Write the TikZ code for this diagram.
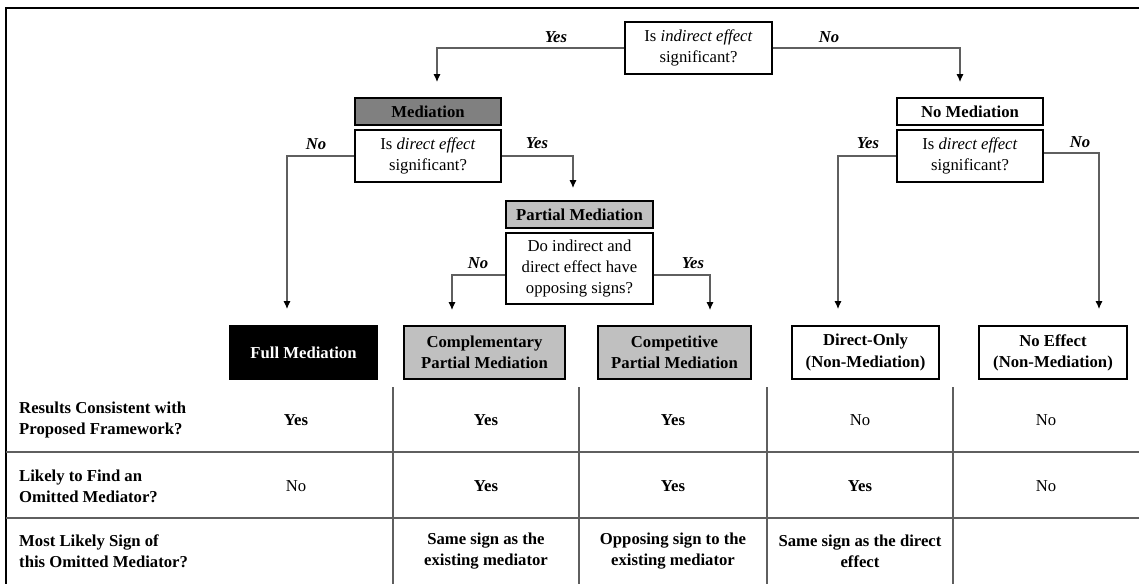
\documentclass[tikz,border=0pt]{standalone}
\usepackage{fontspec}
\setmainfont{Liberation Serif}
\usepackage{tikz}
\usetikzlibrary{arrows.meta}
\definecolor{darkgrayfill}{RGB}{128,128,128}
\definecolor{palegray}{RGB}{192,192,192}
\definecolor{linegray}{RGB}{95,95,95}
\newcommand{\dsize}{\fontsize{9.5}{12}\selectfont}

\begin{document}
\begin{tikzpicture}[x=0.02cm, y=-0.02cm,
    box/.style={draw=black, line width=1.1pt, align=center, inner sep=0pt, font=\dsize},
    titlebox/.style={box, font=\dsize\bfseries, minimum width=2.93cm, minimum height=0.54cm},
    qbox/.style={box, fill=white, minimum width=2.93cm, minimum height=1.04cm},
    outbox/.style={box, font=\dsize\bfseries, minimum height=1.06cm},
    answer/.style={font=\dsize\bfseries\itshape},
    conn/.style={draw=linegray, line width=0.6pt, -{Latex[length=4.5pt,width=4pt,color=black]}},
    rule/.style={draw=linegray, line width=0.8pt},
    rowlab/.style={font=\dsize\bfseries, align=left, anchor=west},
    cell/.style={font=\dsize, align=center},
    cellb/.style={cell, font=\dsize\bfseries}]
    \useasboundingbox (0,0) rectangle (1139,584);

    % Frame
    \draw[line width=1.1pt] (6,584) -- (6,8) -- (1139,8);

    % First question
    \node[qbox] (indq) at (698.5,48) {Is \emph{indirect effect}\\significant?};
    \coordinate (medIn) at (437,82);
    \coordinate (nomedIn) at (960,82);
    \draw[conn] (indq.west) -| (medIn);
    \draw[conn] (indq.east) -| (nomedIn);
    \node[answer] (indYes) at (556,37) {Yes};
    \node[answer] (indNo) at (829,37) {No};

    % Mediation branch
    \node[titlebox, fill=darkgrayfill] (medT) at (428,111.5) {Mediation};
    \node[qbox] (medq) at (428,156) {Is \emph{direct effect}\\significant?};
    \coordinate (fullIn) at (287,309);
    \coordinate (partIn) at (573,188);
    \draw[conn] (medq.west) -| (fullIn);
    \draw[conn] (medq.east) -| (partIn);
    \node[answer] (medNo) at (316,144) {No};
    \node[answer] (medYes) at (537,143) {Yes};

    % Partial mediation branch
    \node[titlebox, fill=palegray] (partT) at (579.5,214.5) {Partial Mediation};
    \node[qbox, minimum height=1.42cm] (partq) at (579.5,268.5) {Do indirect and\\direct effect have\\opposing signs?};
    \coordinate (complIn) at (452,310);
    \coordinate (competIn) at (710,310);
    \draw[conn] ([yshift=-0.13cm]partq.west) -| (complIn);
    \draw[conn] ([yshift=-0.13cm]partq.east) -| (competIn);
    \node[answer] (partNo) at (478,263) {No};
    \node[answer] (partYes) at (693,263) {Yes};

    % No mediation branch
    \node[titlebox, fill=white] (nomedT) at (970,111.5) {No Mediation};
    \node[qbox] (nomedq) at (970,156) {Is \emph{direct effect}\\significant?};
    \coordinate (directIn) at (838,309);
    \coordinate (noeffIn) at (1099,309);
    \draw[conn] (nomedq.west) -| (directIn);
    \draw[conn] ([yshift=0.06cm]nomedq.east) -| (noeffIn);
    \node[answer] (nomedYes) at (868,143) {Yes};
    \node[answer] (nomedNo) at (1080,142) {No};

    % Outcomes
    \node[outbox, fill=black, text=white, minimum width=2.94cm] (full) at (303.5,352.5) {Full Mediation};
    \node[outbox, fill=palegray, minimum width=3.22cm] (compl) at (484.5,352.5) {Complementary\\Partial Mediation};
    \node[outbox, fill=palegray, minimum width=3.06cm] (compet) at (674.5,352.5) {Competitive\\Partial Mediation};
    \node[outbox, fill=white, minimum width=2.94cm] (direct) at (865.5,352.5) {Direct-Only\\(Non-Mediation)};
    \node[outbox, fill=white, minimum width=2.96cm] (noeff) at (1053,352.5) {No Effect\\(Non-Mediation)};

    % Table rules
    \foreach \xx in {393,579,767,953}
        \draw[rule] (\xx,387) -- (\xx,584);
    \draw[rule] (6,452) -- (1139,452);
    \draw[rule] (6,518) -- (1139,518);

    % Row 1
    \node[rowlab] (rowA) at (13,420) {Results Consistent with\\Proposed Framework?};
    \node[cellb] (a1) at (296,420) {Yes};
    \node[cellb] (a2) at (486,420) {Yes};
    \node[cellb] (a3) at (673,420) {Yes};
    \node[cell] (a4) at (860,420) {No};
    \node[cell] (a5) at (1046,420) {No};

    % Row 2
    \node[rowlab] (rowB) at (13,486) {Likely to Find an\\Omitted Mediator?};
    \node[cell] (b1) at (296,486) {No};
    \node[cellb] (b2) at (486,486) {Yes};
    \node[cellb] (b3) at (673,486) {Yes};
    \node[cellb] (b4) at (860,486) {Yes};
    \node[cell] (b5) at (1046,486) {No};

    % Row 3
    \node[rowlab] (rowC) at (13,551) {Most Likely Sign of\\this Omitted Mediator?};
    \node[cellb] (c2) at (486,551) {Same sign as the\\existing mediator};
    \node[cellb] (c3) at (673,551) {Opposing sign to the\\existing mediator};
    \node[cellb] (c4) at (860,551) {Same sign as the direct\\effect};
\end{tikzpicture}
\end{document}
